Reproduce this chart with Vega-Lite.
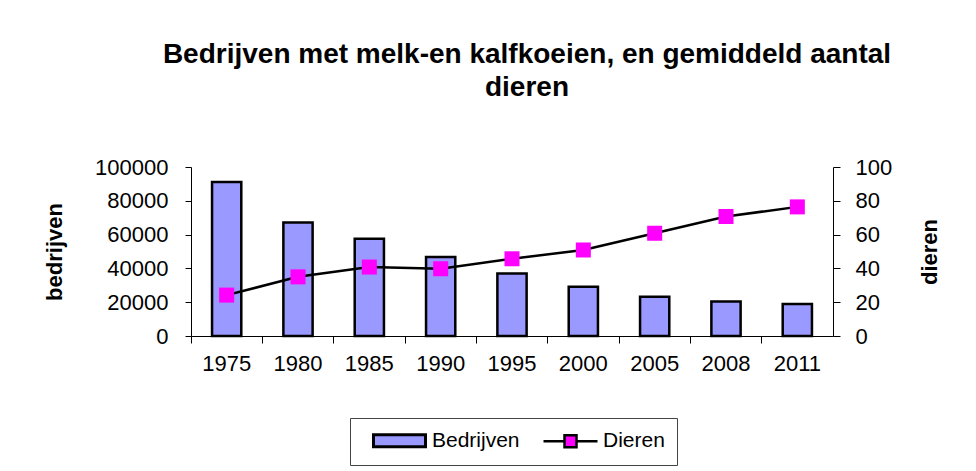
{
  "$schema": "https://vega.github.io/schema/vega-lite/v6.json",
  "autosize": "none",
  "width": 642,
  "height": 169,
  "padding": {"left": 191, "top": 167, "right": 143, "bottom": 135},
  "background": "white",
  "title": {
    "text": ["Bedrijven met melk-en kalfkoeien, en gemiddeld aantal", "dieren"],
    "font": "Liberation Sans",
    "fontSize": 28,
    "fontWeight": "bold",
    "color": "black",
    "anchor": "middle",
    "dx": 15,
    "offset": 32,
    "lineHeight": 33,
    "baseline": "alphabetic"
  },
  "data": {
    "values": [
      {"jaar": "1975", "bedrijven": 91100, "dieren": 24.2},
      {"jaar": "1980", "bedrijven": 67100, "dieren": 35.0},
      {"jaar": "1985", "bedrijven": 57600, "dieren": 40.8},
      {"jaar": "1990", "bedrijven": 46700, "dieren": 39.8},
      {"jaar": "1995", "bedrijven": 37000, "dieren": 45.7},
      {"jaar": "2000", "bedrijven": 29100, "dieren": 50.9},
      {"jaar": "2005", "bedrijven": 23200, "dieren": 60.8},
      {"jaar": "2008", "bedrijven": 20400, "dieren": 70.7},
      {"jaar": "2011", "bedrijven": 19000, "dieren": 76.4}
    ]
  },
  "encoding": {
    "x": {
      "field": "jaar",
      "type": "ordinal",
      "scale": {"paddingInner": 0, "paddingOuter": 0},
      "axis": {
        "title": null,
        "labelAngle": 0,
        "bandPosition": 0,
        "tickSize": 7,
        "labelPadding": 10,
        "labelOverlap": false
      }
    }
  },
  "layer": [
    {
      "mark": {"type": "bar", "width": {"band": 0.41}, "stroke": "black", "strokeWidth": 2.5},
      "encoding": {
        "y": {
          "field": "bedrijven",
          "type": "quantitative",
          "scale": {"domain": [0, 100000], "nice": false},
          "axis": {
            "title": "bedrijven",
            "values": [0, 20000, 40000, 60000, 80000, 100000],
            "format": "d",
            "tickSize": 6,
            "labelPadding": 17,
            "labelOverlap": false,
            "titlePadding": 28,
            "titleFontSize": 22,
            "titleFontWeight": "bold"
          }
        },
        "fill": {
          "datum": "Bedrijven",
          "type": "nominal",
          "scale": {"domain": ["Bedrijven", "Dieren"], "range": ["#9999FF", "#FF00FF"]},
          "legend": {
            "title": null,
            "orient": "none",
            "legendX": 159,
            "legendY": 251,
            "direction": "horizontal",
            "columns": 2,
            "padding": 12,
            "strokeColor": "#444",
            "symbolSize": 400,
            "symbolOffset": 27,
            "labelOffset": 22,
            "columnPadding": 13,
            "symbolStrokeColor": "black",
            "labelFontSize": 21,
            "labelFont": "Liberation Sans",
            "labelColor": "black",
            "encode": {
              "symbols": {
                "update": {
                  "shape": {"signal": "datum.label === 'Bedrijven' ? 'M-2.6,-0.6H2.6V0.6H-2.6Z' : 'M-2.7,0H-0.6M0.6,0H2.7M-0.6,-0.6H0.6V0.6H-0.6Z'"},
                  "strokeWidth": {"signal": "datum.label === 'Bedrijven' ? 3 : 2.5"},
                  "stroke": {"value": "black"}
                }
              }
            }
          }
        }
      }
    },
    {
      "encoding": {
        "y": {
          "field": "dieren",
          "type": "quantitative",
          "scale": {"domain": [0, 100], "nice": false},
          "axis": {
            "orient": "right",
            "title": "dieren",
            "values": [0, 20, 40, 60, 80, 100],
            "tickSize": 7,
            "labelPadding": 15,
            "labelOverlap": false,
            "titlePadding": 50,
            "titleAngle": 270,
            "titleFontSize": 22,
            "titleFontWeight": "bold"
          }
        }
      },
      "layer": [
        {
          "mark": {"type": "line", "color": "black", "strokeWidth": 2.5}
        },
        {
          "mark": {"type": "point", "shape": "square", "filled": true, "size": 225, "color": "#FF00FF", "opacity": 1}
        }
      ]
    }
  ],
  "resolve": {"scale": {"y": "independent"}},
  "config": {
    "font": "Liberation Sans",
    "view": {"stroke": null},
    "axis": {
      "domainColor": "black",
      "tickColor": "black",
      "labelColor": "black",
      "titleColor": "black",
      "labelFontSize": 22,
      "labelFont": "Liberation Sans",
      "titleFont": "Liberation Sans",
      "grid": false,
      "domainWidth": 1,
      "tickWidth": 1
    }
  }
}
